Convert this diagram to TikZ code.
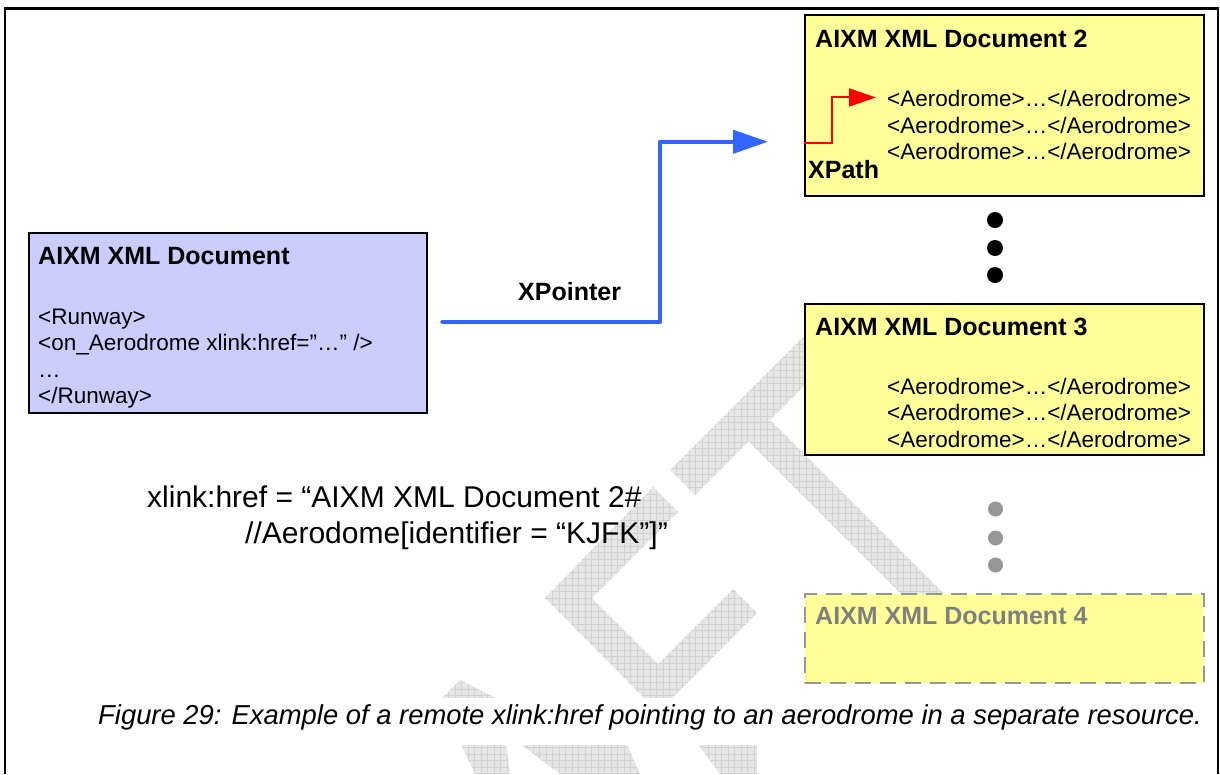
\documentclass[tikz,border=0pt]{standalone}
\usepackage{fontspec}
\setmainfont{Liberation Sans}
\usetikzlibrary{arrows.meta,calc}
\definecolor{docyel}{HTML}{FFFF99}
\definecolor{doclav}{HTML}{CCCCFF}
\definecolor{xpblue}{HTML}{3366FF}
\definecolor{dotgray}{HTML}{969696}
\definecolor{wmfill}{HTML}{E6E6E6}
\definecolor{wmline}{HTML}{D2D2D2}
\definecolor{ghost}{HTML}{808080}
\begin{document}
\begin{tikzpicture}[x=1pt,y=-1pt,
  doc/.style={draw=black, line width=1.5pt, anchor=north west, inner sep=0pt},
  ttl/.style={font=\bfseries\fontsize{25}{30}\selectfont, anchor=base west, inner sep=0pt},
  code/.style={font=\fontsize{22.5}{26}\selectfont, anchor=base west, inner sep=0pt},
  big/.style={font=\fontsize{30}{36}\selectfont, anchor=base west, inner sep=0pt},
  dotk/.style={circle, fill=black, inner sep=0pt, minimum size=16pt},
  dotg/.style={circle, fill=dotgray, inner sep=0pt, minimum size=15pt},
  xparrow/.style={draw=xpblue, line width=4.5pt, line cap=round, line join=round, -{Triangle[length=35pt,width=23pt]}},
  xpatharrow/.style={draw=red, line width=2pt, -{Triangle[length=27pt,width=18pt]}}]
\useasboundingbox (0,0) rectangle (1220,774);

% watermark
\begin{scope}
\clip (653,487) -- (678,512) -- (592,598) -- (658,664) -- (733,589) -- (757,613) -- (658,712) -- (545,598) -- cycle
 (670,470) -- (695,495) -- (748.5,441.5) -- (907,600) -- (950,600) -- (770,420) -- (855,335) -- (830,310) -- cycle
 (460,680) -- (500,700) -- (510,774) -- (475,774) -- (440,700) -- cycle
 (515,740) -- (625,740) -- (640,774) -- (560,774) -- cycle
 (695,740) -- (757,740) -- (757,774) -- (720,774) -- cycle;
\fill[wmfill] (400,300) rectangle (1000,774);
\draw[wmline, line width=0.5pt] (400,300) grid[step=6.5pt] (1000,774);
\end{scope}

% frame
\draw[line width=2pt] (4.5,774) -- (4.5,8) -- (1218,8) -- (1218,774);
\draw[line width=3pt] (3.5,8) -- (1219,8);

% document boxes
\node[doc, fill=doclav, minimum width=398pt, minimum height=180pt] (d1) at (28,232) {};
\node[doc, fill=docyel, minimum width=399pt, minimum height=181pt] (d2) at (804,14) {};
\node[doc, fill=docyel, minimum width=399pt, minimum height=151pt] (d3) at (804,303) {};
\node[doc, fill=docyel, draw=dotgray, dash pattern=on 16pt off 9pt, minimum width=399pt, minimum height=89pt] (d4) at (804,593) {};

% box 1 texts
\node[ttl] (t1) at (38,264) {AIXM XML Document};
\node[code] (r1) at (38,324.5) {<Runway>};
\node[code] (r2) at (38,350.5) {<on\_Aerodrome xlink:href=”…” />};
\node[code] (r3) at (38,377) {…};
\node[code] (r4) at (38,403) {</Runway>};

% box 2 texts
\node[ttl] (t2) at (815,47) {AIXM XML Document 2};
\node[code] (a21) at (887,106.5) {<Aerodrome>…</Aerodrome>};
\node[code] (a22) at (887,133) {<Aerodrome>…</Aerodrome>};
\node[code] (a23) at (887,159.5) {<Aerodrome>…</Aerodrome>};
\node[ttl] (xpa) at (808,178) {XPath};

% box 3 texts
\node[ttl] (t3) at (815,335) {AIXM XML Document 3};
\node[code] (a31) at (887,394) {<Aerodrome>…</Aerodrome>};
\node[code] (a32) at (887,420.5) {<Aerodrome>…</Aerodrome>};
\node[code] (a33) at (887,447) {<Aerodrome>…</Aerodrome>};

% box 4 text
\node[ttl, text=ghost] (t4) at (815,624) {AIXM XML Document 4};

% dots
\node[dotk] (k1) at (995,220) {};
\node[dotk] (k2) at (995,248) {};
\node[dotk] (k3) at (995,275) {};
\node[dotg] (g1) at (995.5,509) {};
\node[dotg] (g2) at (995.5,538) {};
\node[dotg] (g3) at (995.5,565) {};

% XPointer connector
\coordinate (bs) at ($(d1.east)+(15,-1)$);
\coordinate (be) at ($(d2.west)+(-36,36.5)$);
\draw[xparrow] (bs) -| ($(be)+(-108,0)$) -- (be);
\node[ttl] (xp) at (518,300) {XPointer};

% XPath connector
\coordinate (rs) at ($(d2.south west)+(0,-54)$);
\coordinate (re) at ($(a21.west)+(-11,-1)$);
\draw[xpatharrow] (rs) -| ($(re)+(-44,0)$) -- (re);

% href text
\node[big] (h1) at (147,507) {xlink:href = “AIXM XML Document 2\#};
\node[big] (h2) at (245,543) {//Aerodome[identifier = “KJFK”]”};

% caption
\node[anchor=base west, font=\itshape\fontsize{27.4}{32}\selectfont, fill=white, inner xsep=6pt, inner ysep=0pt, text height=26pt, text depth=21pt] (cap) at (92,724) {Figure 29: Example of a remote xlink:href pointing to an aerodrome in a separate resource.};
\end{tikzpicture}
\end{document}
